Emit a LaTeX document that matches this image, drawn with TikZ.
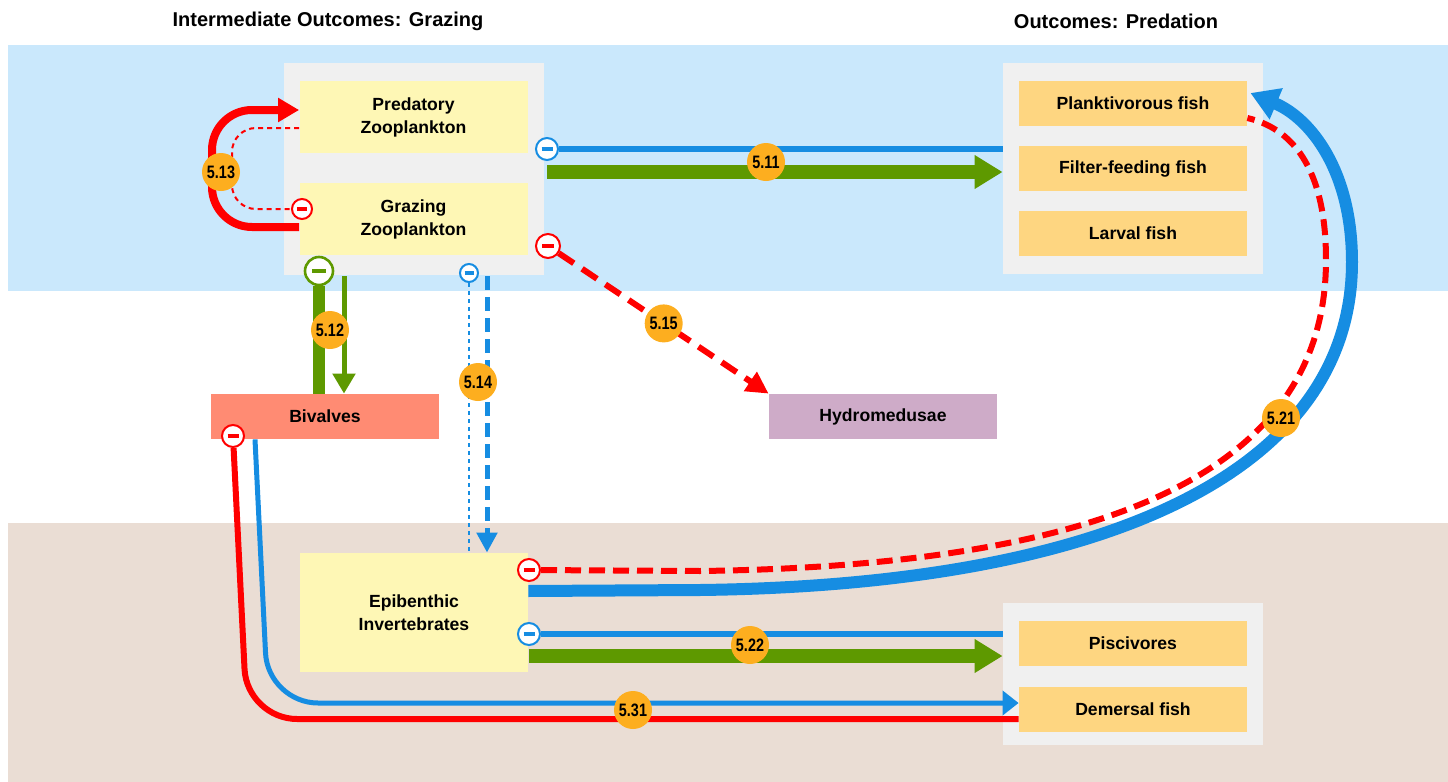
\documentclass[tikz,border=0pt]{standalone}
\usepackage{fontspec}
\setmainfont{Liberation Sans}
\usepackage{graphicx}
\usetikzlibrary{arrows.meta}
\definecolor{bandblue}{HTML}{CAE8FC}
\definecolor{bandsand}{HTML}{EADDD4}
\definecolor{panelgrey}{HTML}{F0F0F0}
\definecolor{paleyellow}{HTML}{FEF7B5}
\definecolor{fishorange}{HTML}{FED681}
\definecolor{bivalvered}{HTML}{FF8B73}
\definecolor{medusapink}{HTML}{CEABC8}
\definecolor{linkblue}{HTML}{168DE2}
\definecolor{linkgreen}{HTML}{5E9900}
\definecolor{linkred}{HTML}{FF0000}
\definecolor{badgeorange}{HTML}{FDAE1F}
\newcommand{\narrow}[1]{\scalebox{0.8}[1]{#1}}
\tikzset{
  minus/.style 2 args={circle, draw=#1, fill=white, line width=1pt, inner sep=0pt, minimum size=#2,
    path picture={\draw[#1, line width=1.6pt] ([xshift=-0.25*#2]path picture bounding box.center) -- ([xshift=0.25*#2]path picture bounding box.center);}}
}

\begin{document}
\begin{tikzpicture}[x=0.5pt, y=-0.5pt]
    \tikzstyle{panel} = [fill=panelgrey, inner sep=0pt, minimum width=130pt]
    \tikzstyle{taxon} = [inner sep=0pt, minimum width=114pt, align=center, font=\bfseries\fontsize{8.8}{11.5}\selectfont]
    \tikzstyle{title_style} = [font=\bfseries\fontsize{10}{12}\selectfont]
    \tikzstyle{badge} = [circle, fill=badgeorange, text=black, inner sep=0pt, minimum size=19pt, font=\bfseries\fontsize{9}{9}\selectfont]
    \tikzstyle{big_head} = [-{Triangle[length=14pt, width=16pt]}]

    \useasboundingbox (0,0) rectangle (1448,782);
    \fill[bandblue] (8,45) rectangle (1448,291);
    \fill[bandsand] (8,523) rectangle (1448,782);

    \node[title_style] (gtitle) at (328,21) {Intermediate Outcomes: Grazing};
    \node[title_style] (ptitle) at (1116,21) {Outcomes: Predation};

    \node[panel, minimum height=106pt] (grazepanel) at (414,169) {};
    \node[panel, minimum height=105.5pt] (fishpanel) at (1133,168.5) {};
    \node[panel, minimum height=71pt] (demerpanel) at (1133,674) {};

    \node[taxon, fill=paleyellow, minimum height=36pt] (pred) at (413.5,117) {Predatory\\Zooplankton};
    \node[taxon, fill=paleyellow, minimum height=36pt] (graz) at (413.5,219) {Grazing\\Zooplankton};
    \node[taxon, fill=fishorange, minimum height=22.5pt] (plank) at (1133,103.5) {Planktivorous fish};
    \node[taxon, fill=fishorange, minimum height=22.5pt] (filter) at (1133,168.5) {Filter-feeding fish};
    \node[taxon, fill=fishorange, minimum height=22.5pt] (larval) at (1133,233.5) {Larval fish};
    \node[taxon, fill=bivalvered, minimum height=22.5pt] (biv) at (325,416.5) {Bivalves};
    \node[taxon, fill=medusapink, minimum height=22.5pt] (hydro) at (883,416.5) {Hydromedusae};
    \node[taxon, fill=paleyellow, minimum height=59.5pt] (epi) at (414,612.5) {Epibenthic\\Invertebrates};
    \node[taxon, fill=fishorange, minimum height=22.5pt] (pisc) at (1133,643.5) {Piscivores};
    \node[taxon, fill=fishorange, minimum height=22.5pt] (demer) at (1133,709.5) {Demersal fish};

    \node[minus={linkblue}{11pt}] (m11) at (547,149) {};
    \node[minus={linkred}{10pt}] (m13) at (302,209) {};
    \node[minus={linkred}{12pt}] (m15) at (548,246) {};
    \node[minus={linkgreen}{14pt}, line width=1.3pt] (m12) at (319,271) {};
    \node[minus={linkblue}{9pt}] (m14) at (469,273) {};
    \node[minus={linkred}{11pt}] (m21) at (529,570) {};
    \node[minus={linkblue}{11pt}] (m22) at (529,634) {};
    \node[minus={linkred}{11pt}] (m31) at (233,436) {};

    \coordinate (g11) at (547,172);
    \coordinate (g12) at (344,276);
    \coordinate (d14) at (487,276);
    \coordinate (g22) at (529,656);

    \draw[linkred, line width=4pt, rounded corners=20pt, -{Triangle[length=10.5pt, width=11.5pt]}] ([yshift=-4pt]graz.west) -- (212,227) -- (212,110) -- ([yshift=3.5pt]pred.west);
    \draw[linkred, line width=1pt, dash pattern=on 2.5pt off 2pt, rounded corners=12pt] ([yshift=-5.5pt]pred.west) -- (232,128) -- (232,209) -- (m13);

    \draw[linkblue, line width=3pt] (m11) -- (m11 -| fishpanel.west);
    \draw[linkgreen, line width=7pt, big_head] (g11) -- (g11 -| fishpanel.west);

    \draw[linkgreen, line width=6pt] (m12) -- (m12 |- biv.north);
    \draw[linkgreen, line width=2.5pt, -{Triangle[length=10pt, width=11pt]}] (g12) -- (g12 |- biv.north);

    \draw[linkblue, line width=1pt, dash pattern=on 2pt off 2pt] (m14) -- (m14 |- epi.north);
    \draw[linkblue, line width=2.5pt, dash pattern=on 7pt off 3.5pt, -{Triangle[length=10pt, width=10pt]}] (d14) -- (d14 |- epi.north);

    \draw[linkred, line width=3pt, dash pattern=on 9pt off 5pt, -{Triangle[length=11pt, width=11pt]}] (m15) -- (hydro.north west) node[badge, pos=0.5] (b15) {\narrow{5.15}};

    \draw[linkred, line width=3pt, dash pattern=on 8pt off 4pt] (m21) -- (700,571) .. controls (1090,566) and (1326,480) .. (1326,260) .. controls (1326,165) and (1290,128) .. ([yshift=-7.25pt]plank.east);
    \draw[linkblue, line width=6pt, big_head] ([yshift=10.75pt]epi.east) -- (700,590) .. controls (1110,585) and (1352,470) .. (1352,262) .. controls (1352,170) and (1310,118) .. ([shift={(1.5pt,5.25pt)}]plank.east);

    \draw[linkblue, line width=3pt] (m22) -- (m22 -| demerpanel.west);
    \draw[linkgreen, line width=7pt, big_head] (g22) -- (g22 -| demerpanel.west);

    \draw[linkred, line width=3pt, rounded corners=25pt] (m31) -- (247,719) -- ([yshift=-4.75pt]demer.west);
    \draw[linkblue, line width=2.5pt, rounded corners=25pt, -{Triangle[length=8pt, width=12pt]}] ([xshift=-35pt]biv.south) -- (268,703) -- ([yshift=3.25pt]demer.west);

    \node[badge] (b11) at (766,162) {\narrow{5.11}};
    \node[badge] (b12) at (330,330) {\narrow{5.12}};
    \node[badge] (b13) at (221,172) {\narrow{5.13}};
    \node[badge] (b14) at (478,382) {\narrow{5.14}};
    \node[badge] (b21) at (1281,418) {\narrow{5.21}};
    \node[badge] (b22) at (750,645) {\narrow{5.22}};
    \node[badge] (b31) at (633,710) {\narrow{5.31}};
\end{tikzpicture}
\end{document}
